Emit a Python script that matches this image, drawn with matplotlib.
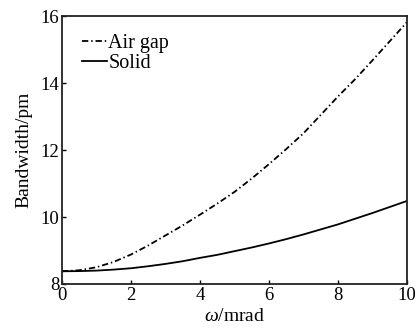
import matplotlib
matplotlib.use("Agg")
import matplotlib.pyplot as plt

omega = [0, 0.5, 1, 1.5, 2, 2.5, 3, 3.5, 4, 4.5, 5, 5.5, 6, 6.5, 7, 7.5, 8, 8.5, 9, 9.5, 10]
air_gap = [8.38, 8.41, 8.5, 8.66, 8.88, 9.15, 9.45, 9.75, 10.07, 10.4, 10.75, 11.15, 11.58,
           12.03, 12.5, 13.05, 13.6, 14.12, 14.68, 15.25, 15.82]
solid = [8.38, 8.385, 8.40, 8.43, 8.47, 8.53, 8.6, 8.68, 8.78, 8.87, 8.98, 9.09, 9.21,
         9.34, 9.48, 9.63, 9.78, 9.95, 10.12, 10.3, 10.48]
xticks = [0, 2, 4, 6, 8, 10]
yticks = [8, 10, 12, 14, 16]

plt.rcParams['font.family'] = ['Liberation Serif', 'DejaVu Serif']
plt.rcParams['mathtext.fontset'] = 'custom'
plt.rcParams['mathtext.it'] = 'Liberation Serif:italic'
plt.rcParams['mathtext.rm'] = 'Liberation Serif'

fig = plt.figure(figsize=(4.2, 3.36), dpi=100)
ax = fig.add_axes([0.1476, 0.1548, 0.969 - 0.1476, 0.952 - 0.1548])

ax.plot(omega, air_gap, color='black', lw=1.3, linestyle=(0, (3.5, 1.6, 0.8, 1.6)), label='Air gap')
ax.plot(omega, solid, color='black', lw=1.3, linestyle='-', label='Solid')

ax.set_xlim(0, 10)
ax.set_ylim(8, 16)
ax.set_xticks(xticks)
ax.set_yticks(yticks)
ax.tick_params(direction='in', length=3, width=1.0, labelsize=13.5, top=False, right=False, pad=2)
for s in ax.spines.values():
    s.set_linewidth(1.3)
    s.set_color('#222222')

ax.set_xlabel(r'$\omega$/mrad', fontsize=14, labelpad=3)
ax.set_ylabel('Bandwidth/pm', fontsize=14, labelpad=6)

leg = ax.legend(loc='upper left', frameon=False, fontsize=14.5, handlelength=1.25,
                handletextpad=0.05, labelspacing=0.05, borderaxespad=0.0,
                bbox_to_anchor=(0.035, 0.965))

fig.savefig('out.png', dpi=100)
